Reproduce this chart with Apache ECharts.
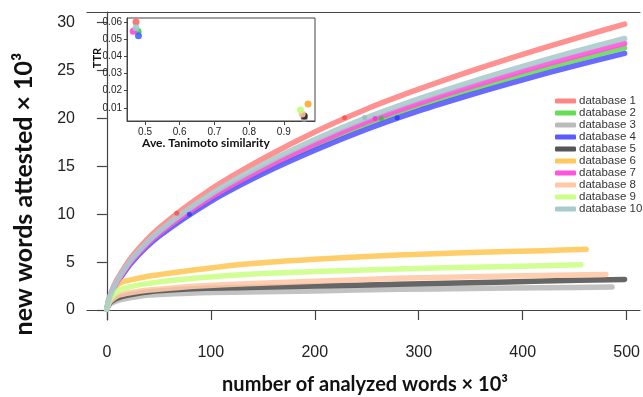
<!DOCTYPE html>
<html><head><meta charset="utf-8">
<script src="https://cdn.jsdelivr.net/npm/echarts@6/dist/echarts.min.js"></script>
<style>html,body{margin:0;padding:0;background:#fff}#c{width:643px;height:397px}</style>
</head><body><div id="c"></div>
<script>
// ---- main chart data (x: analyzed words ×10³, y: new words ×10³) ----
const names = ['database 1','database 2','database 3','database 4','database 5','database 6','database 7','database 8','database 9','database 10'];
const colors = ['#ff8585','#66dd55','#bbbbbb','#5a5aff','#555555','#ffc85a','#ff55dd','#ffc9a8','#ccff88','#a8cccc'];

const xUp = [0, 2, 5, 10, 25, 50, 100, 150, 200, 250, 300, 350, 400, 450, 498];
const db1  = [0.1, 1.14, 2.07, 3.22, 5.69, 8.53, 12.6, 15.8, 18.6, 21.0, 23.06, 24.95, 26.7, 28.35, 29.85];
const db2  = [0.1, 1.03, 1.9, 2.94, 5.21, 7.84, 11.59, 14.55, 17.11, 19.4, 21.31, 23.0, 24.58, 26.07, 27.4];
const db4  = [0.1, 1.0, 1.85, 2.88, 5.11, 7.69, 11.35, 14.22, 16.68, 18.88, 20.8, 22.48, 24.04, 25.5, 26.8];
const db7  = [0.1, 1.05, 1.92, 2.98, 5.29, 7.95, 11.75, 14.75, 17.34, 19.65, 21.58, 23.32, 24.95, 26.47, 27.84];
const db10 = [0.1, 1.1, 2.0, 3.09, 5.46, 8.2, 12.1, 15.17, 17.8, 20.1, 22.06, 23.81, 25.44, 26.98, 28.36];

const x3 = [0, 2, 5, 12, 25, 41, 60, 89, 134, 200, 280, 350, 420, 486];
const db3 = [0.05, 0.5, 0.75, 1.04, 1.32, 1.57, 1.68, 1.81, 1.88, 2.0, 2.16, 2.25, 2.33, 2.4];
const x5 = [0, 2, 5, 12, 25, 41, 60, 89, 134, 200, 280, 350, 420, 498];
const db5 = [0.1, 0.6, 0.95, 1.33, 1.65, 1.91, 2.08, 2.26, 2.36, 2.5, 2.68, 2.85, 3.02, 3.2];
const x6 = [0, 2, 5, 12, 25, 41, 60, 89, 134, 200, 280, 350, 420, 461];
const db6 = [0.1, 1.2, 1.8, 2.79, 3.2, 3.55, 3.85, 4.25, 4.8, 5.3, 5.74, 6.0, 6.2, 6.34];
const x8 = [0, 2, 5, 12, 25, 41, 60, 89, 134, 200, 280, 350, 420, 480];
const db8 = [0.1, 0.7, 1.1, 1.57, 1.85, 2.09, 2.28, 2.51, 2.74, 3.0, 3.31, 3.48, 3.6, 3.72];
const x9 = [0, 2, 5, 12, 25, 41, 60, 89, 134, 200, 280, 350, 420, 456];
const db9 = [0.1, 0.9, 1.4, 2.09, 2.5, 2.79, 3.05, 3.37, 3.72, 4.02, 4.28, 4.48, 4.63, 4.73];

// dots marked on the curves
const dotX = [67.3, 228.6, 79.4, 279.3, 248, 258, 264];
const dotY = [10.1, 20.07, 10.0, 20.07, 20.1, 20.0, 20.0];
const dotColor = ['#ff4444','#ff4444','#2233ff','#2233ff','#88bbbb','#ee33cc','#33bb33'];

const xTicks = [0, 100, 200, 300, 400, 500];
const yTicks = [0, 5, 10, 15, 20, 25, 30];

// ---- inset data ----
const simil = [0.474, 0.480, 0.959, 0.481, 0.959, 0.970, 0.466, 0.953, 0.948, 0.474];
const ttr   = [0.0600, 0.0544, 0.0040, 0.0520, 0.0053, 0.0123, 0.0546, 0.0065, 0.0088, 0.0567];
const insetColors = ['#ff6666','#44cc44','#aaaaaa','#4466ff','#222222','#ffaa33','#ff44dd','#ffbb99','#bbff77','#99cccc'];
const insetXTicks = [0.5, 0.6, 0.7, 0.8, 0.9];
const insetYTicks = [0.01, 0.02, 0.03, 0.04, 0.05, 0.06];

const curves = [
  [xUp, db1], [xUp, db2], [x3, db3], [xUp, db4], [x5, db5],
  [x6, db6], [xUp, db7], [x8, db8], [x9, db9], [xUp, db10]
];

const series = curves.map((c, i) => ({
  name: names[i], type: 'line', xAxisIndex: 0, yAxisIndex: 0,
  data: c[0].map((x, k) => [x, c[1][k]]),
  smooth: 0.3, showSymbol: false, symbol: 'none',
  color: colors[i],
  lineStyle: { width: 5.5, color: colors[i], opacity: 0.9, cap: 'round', join: 'round' },
  z: 2
}));
series.push({
  type: 'scatter', xAxisIndex: 0, yAxisIndex: 0, symbolSize: 5, z: 3,
  data: dotX.map((x, k) => ({ value: [x, dotY[k]], itemStyle: { color: dotColor[k], opacity: 0.75 } }))
});
series.push({
  type: 'scatter', xAxisIndex: 1, yAxisIndex: 1, symbolSize: 7, z: 10,
  data: simil.map((x, k) => ({ value: [x, ttr[k]], itemStyle: { color: insetColors[k], opacity: 0.9 } }))
});

const tickFont = { fontFamily: 'Liberation Sans', color: '#222' };
const axisCol = '#444';

const option = {
  animation: false,
  backgroundColor: '#fff',
  grid: [
    { left: 87, top: 12, width: 556, height: 308, show: false },
    { left: 127, top: 18, width: 188, height: 103, show: true, backgroundColor: '#fff', borderColor: axisCol, borderWidth: 1, z: 5 }
  ],
  xAxis: [
    { type: 'value', gridIndex: 0, min: -19.1, max: 512.8, position: 'bottom',
      axisLine: { show: true, lineStyle: { color: axisCol, width: 1.2 } },
      axisTick: { show: true, length: 10, lineStyle: { color: axisCol, width: 1.2 }, customValues: xTicks },
      axisLabel: { show: true, margin: 25, fontSize: 16, ...tickFont, customValues: xTicks },
      splitLine: { show: false } },
    { type: 'value', gridIndex: 1, min: 0.448, max: 0.99, z: 6,
      axisLine: { show: true, lineStyle: { color: axisCol } },
      axisTick: { show: true, length: 4, lineStyle: { color: axisCol }, customValues: insetXTicks },
      axisLabel: { show: true, margin: 6, fontSize: 10, ...tickFont, customValues: insetXTicks },
      splitLine: { show: false } },
    { type: 'value', gridIndex: 0, min: -19.1, max: 512.8, position: 'top',
      axisLine: { show: true, lineStyle: { color: axisCol, width: 1.2 } },
      axisTick: { show: false }, axisLabel: { show: false }, splitLine: { show: false } }
  ],
  yAxis: [
    { type: 'value', gridIndex: 0, min: -1.04, max: 31.12,
      axisLine: { show: true, lineStyle: { color: axisCol, width: 1.2 } },
      axisTick: { show: true, length: 10, lineStyle: { color: axisCol, width: 1.2 }, customValues: yTicks },
      axisLabel: { show: true, margin: 12, fontSize: 16, ...tickFont, customValues: yTicks },
      splitLine: { show: false } },
    { type: 'value', gridIndex: 1, min: 0.0024, max: 0.0623, z: 6,
      axisLine: { show: true, lineStyle: { color: axisCol } },
      axisTick: { show: true, length: 3, lineStyle: { color: axisCol }, customValues: insetYTicks },
      axisLabel: { show: true, margin: 5, fontSize: 10, ...tickFont, customValues: insetYTicks },
      splitLine: { show: false } }
  ],
  legend: {
    orient: 'vertical', left: 550, top: 90, data: names,
    icon: 'roundRect', itemWidth: 21, itemHeight: 5, itemGap: 0,
    textStyle: { fontFamily: 'Liberation Sans', fontSize: 11.5, color: '#333', lineHeight: 11.9, padding: [0,0,0,-2] }
  },
  graphic: [
    { type: 'text', x: 24, y: 194, rotation: Math.PI / 2,
      style: { text: 'new words attested × 10³', fontFamily: 'Lato', fontWeight: 'bold', fontSize: 25, fill: '#111', textAlign: 'center', textVerticalAlign: 'middle' } },
    { type: 'text', x: 365, y: 385,
      style: { text: 'number of analyzed words × 10³', fontFamily: 'Lato', fontWeight: 'bold', fontSize: 20, fill: '#111', textAlign: 'center', textVerticalAlign: 'middle' } },
    { type: 'text', x: 206, y: 143, z: 20,
      style: { text: 'Ave. Tanimoto similarity', fontFamily: 'Lato', fontWeight: 'bold', fontSize: 12, fill: '#111', textAlign: 'center', textVerticalAlign: 'middle' } },
    { type: 'text', x: 97, y: 58, rotation: Math.PI / 2, z: 20,
      style: { text: 'TTR', fontFamily: 'Lato', fontWeight: 'bold', fontSize: 11, fill: '#111', textAlign: 'center', textVerticalAlign: 'middle' } }
  ],
  series: series
};
echarts.init(document.getElementById('c'), null, { renderer: 'canvas' }).setOption(option);
</script></body></html>
